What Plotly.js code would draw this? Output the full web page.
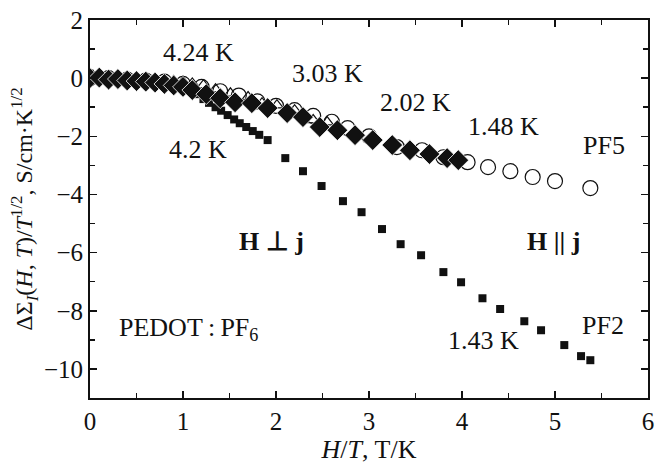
<!DOCTYPE html>
<html><head><meta charset="utf-8">
<script src="https://cdn.plot.ly/plotly-3.0.1.min.js"></script>
<style>html,body{margin:0;padding:0;background:#fff;}</style>
</head><body><div id="chart" style="width:661px;height:466px;"></div>
<script>
// 4.24 K, open triangles (H || j)
const triX = [0.02,0.1,0.2,0.3,0.4,0.5,0.6,0.7,0.8,0.9,1.0,1.1,1.22,1.35,1.51,1.70,1.85,2.01,2.20,2.40,2.55];
const triY = [0.1,0.05,0.0,0.05,0.02,-0.02,0.0,-0.05,-0.08,-0.1,-0.12,-0.18,-0.24,-0.38,-0.52,-0.65,-0.86,-0.93,-1.10,-1.44,-1.51];
// 3.03 K / 2.02 K, filled diamonds (H || j)
const diaX = [0.0,0.1,0.2,0.3,0.4,0.5,0.6,0.7,0.8,0.9,1.0,1.10,1.25,1.40,1.56,1.74,1.91,2.12,2.29,2.47,2.66,2.85,3.04,3.25,3.44,3.65,3.84,3.96];
const diaY = [0,0.02,-0.05,-0.03,-0.08,-0.1,-0.12,-0.15,-0.2,-0.25,-0.3,-0.41,-0.55,-0.69,-0.83,-0.86,-1.03,-1.20,-1.34,-1.68,-1.79,-1.96,-2.13,-2.30,-2.48,-2.61,-2.75,-2.82];
// 1.48 K, open circles (PF5, H || j)
const cirX = [0,0.2,0.4,0.6,0.8,1.0,1.2,1.4,1.6,1.8,2.0,2.2,2.4,2.6,2.77,3.0,3.30,3.57,3.80,4.06,4.28,4.52,4.76,5.00,5.38];
const cirY = [0,0,-0.05,-0.08,-0.12,-0.2,-0.3,-0.45,-0.6,-0.8,-0.95,-1.1,-1.3,-1.5,-1.72,-2.0,-2.37,-2.48,-2.72,-2.89,-3.06,-3.20,-3.40,-3.54,-3.78];
// 4.2 K, filled squares (H ⊥ j)
const sqsX = [0,0.05,0.1,0.15,0.2,0.27,0.33,0.4,0.47,0.53,0.6,0.67,0.73,0.8,0.87,0.93,1.0,1.07,1.13,1.22,1.28,1.35,1.41,1.48,1.55,1.61,1.68,1.75,1.82,1.91];
const sqsY = [0.15,0.1,0.05,0.05,0.02,0,0,-0.02,-0.05,-0.05,-0.08,-0.1,-0.12,-0.15,-0.2,-0.25,-0.3,-0.4,-0.55,-0.72,-0.85,-1.0,-1.12,-1.27,-1.42,-1.55,-1.68,-1.82,-1.95,-2.13];
// 1.43 K, filled squares (PF2, H ⊥ j)
const sqlX = [2.10,2.29,2.49,2.72,2.92,3.14,3.34,3.56,3.80,3.99,4.22,4.41,4.67,4.85,5.10,5.28,5.38];
const sqlY = [-2.75,-3.20,-3.71,-4.23,-4.61,-5.19,-5.71,-6.09,-6.67,-7.02,-7.57,-7.94,-8.36,-8.67,-9.18,-9.56,-9.70];

const xTicks = [0,1,2,3,4,5,6];
const yTicks = [2,0,-2,-4,-6,-8,-10];
const yTickText = ['2','0','\u22122','\u22124','\u22126','\u22128','\u221210'];

const F = 'Liberation Serif, Times New Roman, serif';
const traces = [
  {x: cirX, y: cirY, mode:'markers', type:'scatter', marker:{symbol:'circle-open', size:15, color:'#111', line:{width:1.2}}},
  {x: triX, y: triY, mode:'markers', type:'scatter', marker:{symbol:'triangle-up-open', size:11, color:'#111', line:{width:1.2}}},
  {x: sqsX, y: sqsY, mode:'markers', type:'scatter', marker:{symbol:'square', size:8, color:'#111'}},
  {x: diaX, y: diaY, mode:'markers', type:'scatter', marker:{symbol:'diamond', size:16, color:'#111', line:{color:'#fff', width:0.8}}},
  {x: sqlX, y: sqlY, mode:'markers', type:'scatter', marker:{symbol:'square', size:8, color:'#111'}}
];

function ann(x, y, text, extra) {
  return Object.assign({xref:'paper', yref:'paper', x:x, y:y, text:text, showarrow:false,
    font:{family:F, size:26, color:'#111'}, xanchor:'center', yanchor:'middle'}, extra||{});
}
// paper coords: plot area left 90, right 648, top 20, bottom 398
function px(xp){return (xp-90)/558;}
function py(yp){return (398-yp)/378;}

const layout = {
  width:661, height:466,
  margin:{l:90, r:13, t:20, b:68},
  paper_bgcolor:'#fff', plot_bgcolor:'#fff',
  showlegend:false,
  font:{family:F, size:26, color:'#111'},
  xaxis:{range:[0,6], tickvals:xTicks, ticks:'inside', ticklen:7, tickwidth:1.5, tickcolor:'#111',
    minor:{dtick:0.5, ticks:'inside', ticklen:5, tickwidth:1.5, tickcolor:'#111'},
    showline:true, linecolor:'#111', linewidth:2, mirror:'ticks', showgrid:false, zeroline:false,
    tickfont:{family:F, size:25}, title:{text:'<i>H</i>/<i>T</i>, T/K', font:{family:F, size:26}, standoff:6}},
  yaxis:{range:[-11,2], tickvals:yTicks, ticktext:yTickText, ticks:'inside', ticklen:7, tickwidth:1.5, tickcolor:'#111',
    minor:{dtick:1, ticks:'inside', ticklen:5, tickwidth:1.5, tickcolor:'#111'},
    showline:true, linecolor:'#111', linewidth:2, mirror:'ticks', showgrid:false, zeroline:false,
    tickfont:{family:F, size:25},
    title:{text:'\u0394\u03A3<sub><i>I</i></sub>(<i>H</i>, <i>T</i>)/<i>T</i><sup>1/2</sup>, S/cm\u00B7K<sup>1/2</sup>', font:{family:F, size:24}, standoff:4}},
  annotations:[
    ann(px(198), py(52), '4.24 K'),
    ann(px(327), py(73), '3.03 K'),
    ann(px(415), py(103), '2.02 K'),
    ann(px(503), py(126), '1.48 K'),
    ann(px(604), py(145), 'PF5'),
    ann(px(198), py(149), '4.2 K'),
    ann(px(271), py(241), '<b>H \u22A5 j</b>'),
    ann(px(553), py(241), '<b>H || j</b>'),
    ann(px(603), py(325), 'PF2'),
    ann(px(188), py(329), 'PEDOT\u2009:\u2009PF<sub>6</sub>'),
    ann(px(483), py(340), '1.43 K')
  ]
};
Plotly.newPlot('chart', traces, layout, {staticPlot:true, displayModeBar:false});
</script></body></html>
